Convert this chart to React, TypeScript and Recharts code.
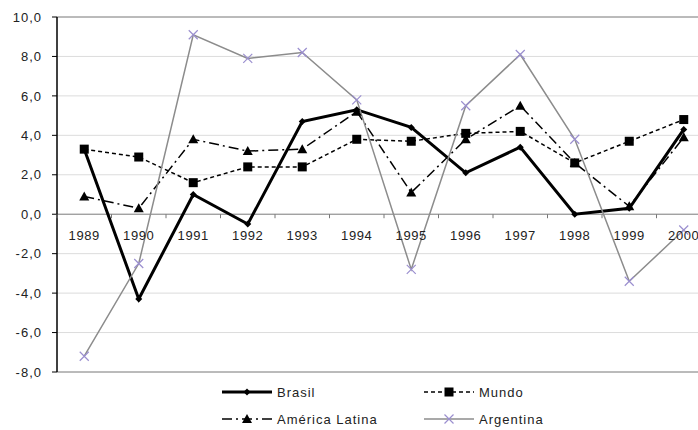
import React from "react";
import {
  CartesianGrid,
  Line,
  LineChart,
  ReferenceLine,
  XAxis,
  YAxis,
} from "recharts";

const years = ["1989", "1990", "1991", "1992", "1993", "1994", "1995", "1996", "1997", "1998", "1999", "2000"];
const brasil = [3.3, -4.3, 1.0, -0.5, 4.7, 5.3, 4.4, 2.1, 3.4, 0.0, 0.3, 4.3];
const mundo = [3.3, 2.9, 1.6, 2.4, 2.4, 3.8, 3.7, 4.1, 4.2, 2.6, 3.7, 4.8];
const americaLatina = [0.9, 0.3, 3.8, 3.2, 3.3, 5.2, 1.1, 3.8, 5.5, 2.6, 0.4, 3.9];
const argentina = [-7.2, -2.5, 9.1, 7.9, 8.2, 5.8, -2.8, 5.5, 8.1, 3.8, -3.4, -0.8];
const yTicks = [-8, -6, -4, -2, 0, 2, 4, 6, 8, 10];

const data = years.map((ano, i) => ({
  ano,
  brasil: brasil[i],
  mundo: mundo[i],
  americaLatina: americaLatina[i],
  argentina: argentina[i],
}));

const FONT = "'Liberation Sans', Arial, sans-serif";
const W = 711;
const H = 430;
const TOP = 17;
const BOTTOM_Y = 372;
const LEFT = 57;
const BAND = (W - LEFT) / years.length;
const ZERO_Y = TOP + ((BOTTOM_Y - TOP) * 10) / 18;
const ARG_GRAY = "#8c8c8c";
const X_COLOR = "#9b8fcf";

const fmt = (v: number) => v.toFixed(1).replace(".", ",");

function Diamond({ cx, cy }: any) {
  if (cx == null || cy == null) return null;
  return <path d={`M${cx},${cy - 3.5}L${cx + 3.5},${cy}L${cx},${cy + 3.5}L${cx - 3.5},${cy}Z`} fill="#000" />;
}

function Square({ cx, cy }: any) {
  if (cx == null || cy == null) return null;
  return <rect x={cx - 4.5} y={cy - 4.5} width={9} height={9} fill="#000" />;
}

function Triangle({ cx, cy }: any) {
  if (cx == null || cy == null) return null;
  return <path d={`M${cx},${cy - 5}L${cx + 5},${cy + 4}L${cx - 5},${cy + 4}Z`} fill="#000" />;
}

function Cross({ cx, cy }: any) {
  if (cx == null || cy == null) return null;
  return (
    <path
      d={`M${cx - 4.5},${cy - 4.5}L${cx + 4.5},${cy + 4.5}M${cx + 4.5},${cy - 4.5}L${cx - 4.5},${cy + 4.5}`}
      stroke={X_COLOR}
      strokeWidth={1.2}
    />
  );
}

// x labels sit under the zero line, tick marks between categories
function YearTick({ x, payload }: any) {
  const left = x - BAND / 2;
  return (
    <g>
      <line x1={left} x2={left} y1={ZERO_Y} y2={ZERO_Y + 4} stroke="#777" />
      <text
        x={x}
        y={ZERO_Y + 26}
        textAnchor="middle"
        fontFamily={FONT}
        fontSize={13}
        fill="#222"
        style={{ letterSpacing: "0.6px" }}
      >
        {payload.value}
      </text>
    </g>
  );
}

function LegendItem({ label, children, x, y }: { label: string; children: React.ReactNode; x: number; y: number }) {
  return (
    <div style={{ position: "absolute", left: x, top: y - 9, height: 18, display: "flex", alignItems: "center" }}>
      <svg width={52} height={12} style={{ marginRight: 3 }}>
        {children}
      </svg>
      <span style={{ fontFamily: FONT, fontSize: 13, color: "#222", letterSpacing: "1px" }}>{label}</span>
    </div>
  );
}

export default function App() {
  return (
    <div style={{ position: "absolute", left: 0, top: 0, width: 698, height: 430, overflow: "hidden", background: "#fff" }}>
      <LineChart width={W} height={H} data={data} margin={{ top: TOP, right: 0, bottom: H - BOTTOM_Y - 30, left: 0 }}>
        <CartesianGrid vertical={false} stroke="#dcdcdc" />
        <ReferenceLine y={10} stroke="#888" />
        <ReferenceLine y={-8} stroke="#888" />
        <ReferenceLine y={0} stroke="#888" />
        <XAxis
          dataKey="ano"
          height={30}
          axisLine={false}
          tickLine={false}
          interval={0}
          padding={{ left: BAND / 2, right: BAND / 2 }}
          tick={(p: any) => <YearTick {...p} />}
        />
        <YAxis
          width={LEFT}
          domain={[-8, 10]}
          ticks={yTicks}
          interval={0}
          tickFormatter={fmt}
          axisLine={{ stroke: "#000", strokeWidth: 1.5 }}
          tickLine={{ stroke: "#000" }}
          tickSize={5}
          tickMargin={10}
          tick={{ fontFamily: FONT, fontSize: 13, fill: "#222", letterSpacing: "1px" } as any}
        />
        <Line
          dataKey="brasil"
          stroke="#000"
          strokeWidth={3}
          dot={(p: any) => <Diamond key={p.index} {...p} />}
          isAnimationActive={false}
        />
        <Line
          dataKey="mundo"
          stroke="#000"
          strokeWidth={1.5}
          strokeDasharray="4 3"
          dot={(p: any) => <Square key={p.index} {...p} />}
          isAnimationActive={false}
        />
        <Line
          dataKey="americaLatina"
          stroke="#000"
          strokeWidth={1.5}
          strokeDasharray="10 4 2 4"
          dot={(p: any) => <Triangle key={p.index} {...p} />}
          isAnimationActive={false}
        />
        <Line
          dataKey="argentina"
          stroke={ARG_GRAY}
          strokeWidth={1.5}
          dot={(p: any) => <Cross key={p.index} {...p} />}
          isAnimationActive={false}
        />
      </LineChart>

      <LegendItem label="Brasil" x={222} y={392}>
        <line x1={0} x2={50} y1={6} y2={6} stroke="#000" strokeWidth={3} />
        <Diamond cx={25} cy={6} />
      </LegendItem>
      <LegendItem label="Mundo" x={424} y={392}>
        <line x1={0} x2={50} y1={6} y2={6} stroke="#000" strokeWidth={1.5} strokeDasharray="4 3" />
        <Square cx={25} cy={6} />
      </LegendItem>
      <LegendItem label="América Latina" x={222} y={419}>
        <line x1={0} x2={50} y1={6} y2={6} stroke="#000" strokeWidth={1.5} strokeDasharray="10 4 2 4" />
        <Triangle cx={25} cy={6} />
      </LegendItem>
      <LegendItem label="Argentina" x={424} y={419}>
        <line x1={0} x2={50} y1={6} y2={6} stroke={ARG_GRAY} strokeWidth={1.5} />
        <Cross cx={25} cy={6} />
      </LegendItem>
    </div>
  );
}
